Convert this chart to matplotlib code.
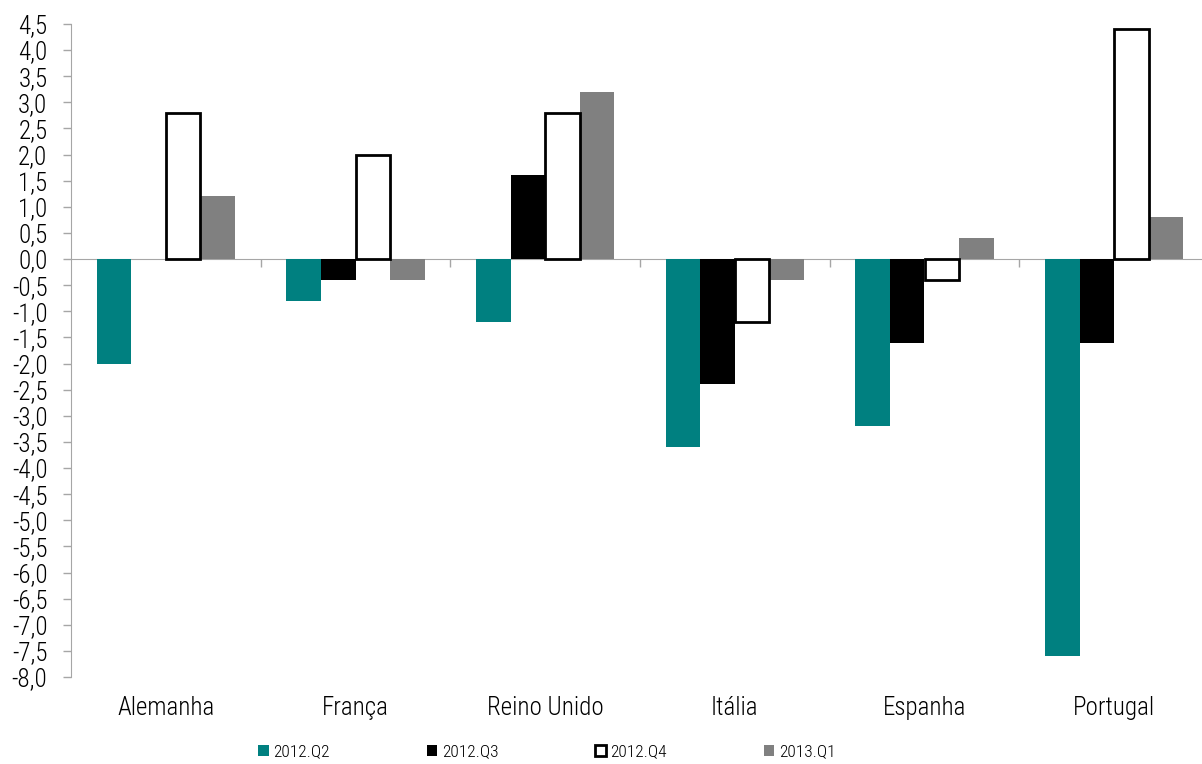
import matplotlib
matplotlib.use("Agg")
import numpy as np
import matplotlib.pyplot as plt
from matplotlib.patches import Patch

plt.rcParams['font.family'] = ['Roboto Condensed', 'DejaVu Sans']
plt.rcParams['font.weight'] = 'light'

categories = ['Alemanha', 'França', 'Reino Unido', 'Itália', 'Espanha', 'Portugal']
series = ['2012.Q2', '2012.Q3', '2012.Q4', '2013.Q1']
q2_2012 = [-2.0, -0.8, -1.2, -3.6, -3.2, -7.6]
q3_2012 = [0.0, -0.4, 1.6, -2.4, -1.6, -1.6]
q4_2012 = [2.8, 2.0, 2.8, -1.2, -0.4, 4.4]
q1_2013 = [1.2, -0.4, 3.2, -0.4, 0.4, 0.8]

values = [q2_2012, q3_2012, q4_2012, q1_2013]
faces = ['#008080', '#000000', '#ffffff', '#808080']
edges = ['#008080', '#000000', '#000000', '#808080']
lws = [0, 0, 2, 0]

fig = plt.figure(figsize=(12.02, 7.64), dpi=100)
ax = fig.add_axes([71 / 1202, 87 / 764, 1138 / 1202, 653 / 764])

x = np.arange(len(categories))
w = 0.182
for i, (vals, fc, ec, lw) in enumerate(zip(values, faces, edges, lws)):
    ax.bar(x + (i - 1.5) * w, vals, w, color=fc, edgecolor=ec, linewidth=lw,
           label=series[i], zorder=3 if lw == 0 else 4)

ax.set_xlim(-0.5, len(categories) - 0.5)
ax.set_ylim(-8.0, 4.5)
yt = np.arange(-8.0, 4.51, 0.5)
ax.set_yticks(yt)
ax.set_yticklabels([f'{v:.1f}'.replace('.', ',') for v in yt], fontsize=18)
ax.tick_params(axis='y', direction='out', length=6, width=1, color='#a6a6a6', pad=11)

# category axis crosses at zero
ax.spines['bottom'].set_position(('data', 0))
ax.spines['bottom'].set_color('#a6a6a6')
ax.spines['bottom'].set_zorder(2)
ax.spines['left'].set_color('#a6a6a6')
ax.spines['top'].set_visible(False)
ax.spines['right'].set_visible(False)
ax.set_xticks(np.arange(0.5, len(categories) - 0.5, 1.0))
ax.set_xticklabels([])
ax.tick_params(axis='x', direction='out', length=6, width=1, color='#a6a6a6')

for xi, name in zip(x, categories):
    ax.text(xi, -0.0475, name, transform=ax.get_xaxis_transform(),
            ha='center', va='center', fontsize=18)

handles = [Patch(facecolor=fc, edgecolor=ec if lw else fc, linewidth=lw, label=s)
           for fc, ec, lw, s in zip(faces, edges, lws, series)]
fig.legend(handles=handles, loc='center', bbox_to_anchor=(0.455, 0.016), ncol=4,
           frameon=False, fontsize=12.5, handlelength=0.6, handleheight=0.6,
           handletextpad=0.25, columnspacing=5.6)

fig.savefig('out.png', dpi=100)
